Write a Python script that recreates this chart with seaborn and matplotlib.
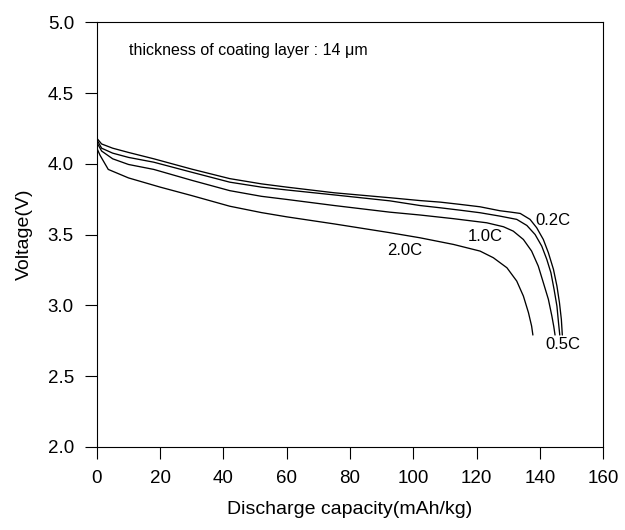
import numpy as np
import pandas as pd
import matplotlib
matplotlib.use("Agg")
import matplotlib.pyplot as plt
import seaborn as sns

rates = ["0.2C", "0.5C", "1.0C", "2.0C"]

cap_02 = [0, 1.5, 5, 10, 18, 30, 42, 52, 60, 75, 92.6, 102.1, 108.5, 114.8, 121.1, 127.4, 130.6, 133.8,
          136.9, 139.0, 141.1, 142.7, 144.3, 145.4, 146.2, 146.8, 147.1]
volt_02 = [4.18, 4.14, 4.11, 4.08, 4.035, 3.962, 3.895, 3.858, 3.835, 3.795, 3.760, 3.740, 3.729, 3.713, 3.696,
           3.668, 3.659, 3.649, 3.607, 3.548, 3.465, 3.371, 3.254, 3.136, 3.018, 2.90, 2.79]

cap_05 = [0, 1.5, 5, 10, 18, 30, 42, 52, 60, 75, 92.6, 102.1, 108.5, 114.8, 121.1, 127.4, 132.7, 135.9,
          138.5, 140.6, 142.2, 143.5, 144.5, 145.4, 145.9, 146.3]
volt_05 = [4.17, 4.11, 4.075, 4.045, 4.011, 3.94, 3.87, 3.835, 3.815, 3.78, 3.738, 3.705, 3.689, 3.672, 3.654,
           3.630, 3.607, 3.564, 3.50, 3.418, 3.324, 3.23, 3.112, 2.994, 2.877, 2.79]

cap_10 = [0, 1.5, 5, 10, 18, 30, 42, 52, 60, 75, 92.6, 102.1, 112.7, 123.2, 128.5, 131.6, 134.8, 137.4,
          139.5, 141.1, 142.7, 143.8, 144.4, 144.8]
volt_10 = [4.15, 4.09, 4.035, 3.995, 3.96, 3.883, 3.81, 3.77, 3.748, 3.705, 3.658, 3.638, 3.612, 3.583, 3.555,
           3.524, 3.465, 3.383, 3.277, 3.16, 3.042, 2.924, 2.85, 2.79]

cap_20 = [0, 1, 3.6, 10, 20, 30, 42, 52, 60, 75, 92.6, 102.1, 112.7, 121.1, 125.3, 129.6, 132.7, 134.8,
          136.4, 137.4, 137.8]
volt_20 = [4.11, 4.06, 3.96, 3.90, 3.835, 3.775, 3.70, 3.655, 3.625, 3.575, 3.513, 3.477, 3.43, 3.383, 3.336,
           3.265, 3.171, 3.065, 2.948, 2.853, 2.79]

label_x = [144.2, 147.2, 122.8, 97.2]
label_y = [3.60, 2.724, 3.483, 3.388]

x_ticks = [0, 20, 40, 60, 80, 100, 120, 140, 160]
y_ticks = [2.0, 2.5, 3.0, 3.5, 4.0, 4.5, 5.0]

frames = []
for r, c, v in zip(rates, [cap_02, cap_05, cap_10, cap_20], [volt_02, volt_05, volt_10, volt_20]):
    frames.append(pd.DataFrame({"capacity": c, "voltage": v, "rate": r}))
df = pd.concat(frames, ignore_index=True)

sns.set_style("ticks", rc={"text.color": "black", "axes.labelcolor": "black",
                           "xtick.color": "black", "ytick.color": "black",
                           "axes.edgecolor": "black"})
plt.rcParams["font.family"] = ["Liberation Sans", "DejaVu Sans"]

fig = plt.figure(figsize=(6.25, 5.3), dpi=100)
ax = fig.add_axes([0.155, 0.157, 0.81, 0.801])

sns.lineplot(data=df, x="capacity", y="voltage", hue="rate", units="rate",
             estimator=None, sort=False, palette=["black"] * 4,
             linewidth=0.95, legend=False, ax=ax)

for r, lx, ly in zip(rates, label_x, label_y):
    ax.text(lx, ly, r, ha="center", va="center", fontsize=12, color="black")

ax.text(10.1, 4.80, "thickness of coating layer : 14 \u03bcm", ha="left", va="center",
        fontsize=11.5, color="black")

ax.set_xlim(0, 160)
ax.set_ylim(2.0, 5.0)
ax.set_xticks(x_ticks)
ax.set_yticks(y_ticks)
ax.set_xticklabels([str(t) for t in x_ticks])
ax.set_yticklabels([f"{t:.1f}" for t in y_ticks])
ax.tick_params(axis="both", direction="out", length=8.5, width=0.8, labelsize=13.5,
               colors="black", pad=8)
ax.tick_params(top=False, right=False)
for s in ax.spines.values():
    s.set_visible(True)
    s.set_linewidth(0.8)
    s.set_color("black")

ax.set_xlabel("Discharge capacity(mAh/kg)", fontsize=14, labelpad=10)
ax.set_ylabel("Voltage(V)", fontsize=14, labelpad=11)

fig.savefig("out.png", dpi=100)
